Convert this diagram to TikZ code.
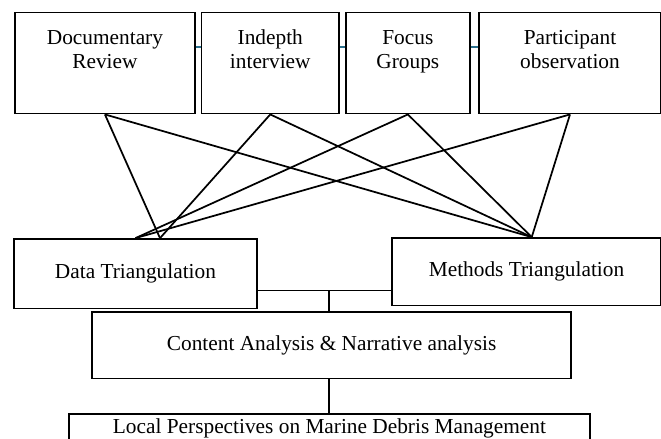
\documentclass[tikz,border=0pt]{standalone}
\usepackage{fontspec}
\setmainfont{Liberation Serif}
\usepackage{tikz}
\usetikzlibrary{positioning}
\definecolor{linkteal}{HTML}{2A6F8C}

\begin{document}
\begin{tikzpicture}[on grid,
   box/.style={draw,line width=1.3pt,align=center,inner sep=2pt,
     font=\fontsize{16}{20}\selectfont},
   topbox/.style={box,minimum height=75.75pt,text depth=21pt,
     font=\fontsize{16}{18}\selectfont},
   link/.style={line width=1.3pt}]
 \useasboundingbox (0,0) rectangle (495.75pt,-329.25pt);
 \node[topbox,minimum width=135.2pt] (doc) at (78.7pt,-47.3pt) {Documentary\\Review};
 \node[topbox,minimum width=103.1pt] (ind) [right=124pt of doc] {Indepth\\interview};
 \node[topbox,minimum width=93.2pt] (foc) [right=103.2pt of ind] {Focus\\Groups};
 \node[topbox,minimum width=136.5pt] (par) [right=121.6pt of foc] {Participant\\observation};
 \node[box,minimum width=182.3pt,minimum height=52.2pt] (data) [below right=158.05pt and 22.9pt of doc] {Data Triangulation};
 \node[box,minimum width=201.75pt,minimum height=50.7pt] (meth) [above right=1.5pt and 293.3pt of data] {Methods Triangulation};
 \coordinate[below right=12.55pt and 145pt of data] (jn);
 \node[box,minimum width=359.4pt,minimum height=49.9pt] (cont) [below right=53.55pt and 147.1pt of data] {Content Analysis \& Narrative analysis};
 \node[box,minimum width=390.75pt,minimum height=21pt] (loc) [below left=62.1pt and 1.6pt of cont] {Local Perspectives on Marine Debris Management};
 \coordinate (dtop) at ([xshift=18.4pt]data.north);
 \coordinate (mtop) at ([xshift=3.9pt]meth.north);
 \draw[linkteal,line width=1.5pt] ([yshift=12pt]doc.east) -- ([yshift=12pt]ind.west);
 \draw[linkteal,line width=1.5pt] ([yshift=12pt]ind.east) -- ([yshift=12pt]foc.west);
 \draw[linkteal,line width=1.5pt] ([yshift=12pt]foc.east) -- ([yshift=12pt]par.west);
 \draw[link] (doc.south) -- (dtop);
 \draw[link] (ind.south) -- (dtop);
 \draw[link] (foc.south) -- (data.north);
 \draw[link] (par.south) -- (data.north);
 \draw[link] (doc.south) -- (mtop);
 \draw[link] (ind.south) -- (mtop);
 \draw[link] (foc.south) -- (mtop);
 \draw[link] (par.south) -- (mtop);
 \draw[link] (data.east |- jn) -- (meth.west |- jn);
 \draw[link] (jn) -- (jn |- cont.north);
 \draw[link] (jn |- cont.south) -- (jn |- loc.north);
\end{tikzpicture}
\end{document}
